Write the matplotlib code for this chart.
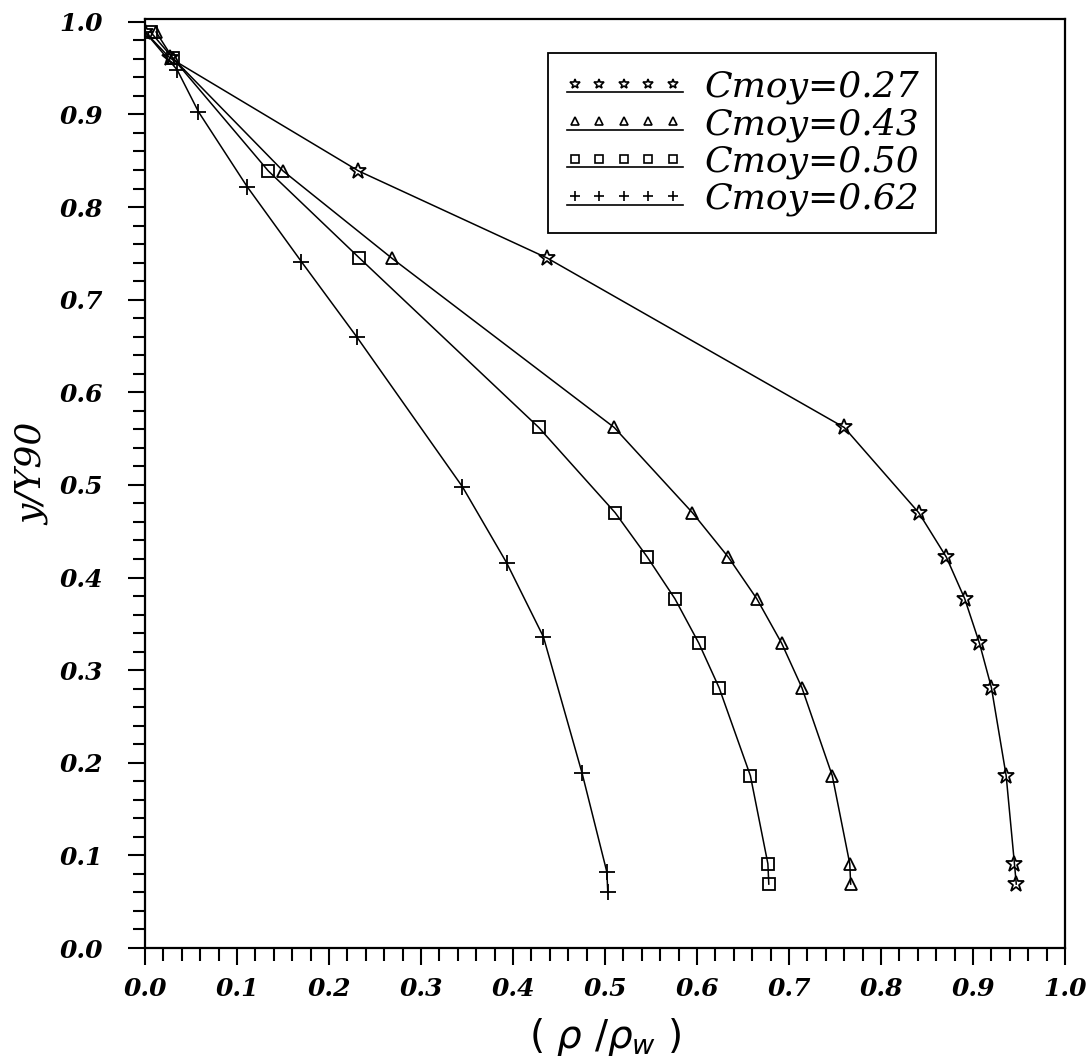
import numpy as np
import matplotlib
matplotlib.use('Agg')
import matplotlib.pyplot as plt
from matplotlib.lines import Line2D
from matplotlib.legend_handler import HandlerLine2D
from matplotlib.ticker import MultipleLocator, FormatStrFormatter

# data
y_common = [0.989, 0.961, 0.839, 0.745, 0.562, 0.470, 0.422, 0.377, 0.329, 0.281, 0.186, 0.091, 0.069]
x_027 = [0.000, 0.027, 0.232, 0.437, 0.760, 0.841, 0.871, 0.891, 0.907, 0.920, 0.936, 0.945, 0.947]
x_043 = [0.012, 0.030, 0.150, 0.268, 0.510, 0.595, 0.634, 0.665, 0.692, 0.714, 0.747, 0.766, 0.767]
x_050 = [0.006, 0.030, 0.134, 0.233, 0.428, 0.511, 0.546, 0.576, 0.602, 0.624, 0.658, 0.677, 0.678]
x_062 = [0.000, 0.035, 0.058, 0.111, 0.170, 0.230, 0.345, 0.393, 0.433, 0.475, 0.502, 0.503]
y_062 = [0.989, 0.948, 0.903, 0.822, 0.741, 0.660, 0.498, 0.416, 0.336, 0.189, 0.082, 0.060]

labels = ['Cmoy=0.27', 'Cmoy=0.43', 'Cmoy=0.50', 'Cmoy=0.62']
markers = ['*', '^', 's', '+']
msizes = [12, 9, 9, 11]

serif = 'DejaVu Serif'

fig = plt.figure(figsize=(10.88, 10.57), dpi=100)
ax = fig.add_axes([0.1333, 0.1031, 0.8456, 0.8789])

series = [(x_027, y_common), (x_043, y_common), (x_050, y_common), (x_062, y_062)]
for (xs, ys), m, ms in zip(series, markers, msizes):
    ax.plot(xs, ys, color='black', lw=1.1, marker=m, ms=ms, mfc='none',
            mec='black', mew=1.3)

ax.set_xlim(0, 1.0)
ax.set_ylim(0, 1.003)

ax.xaxis.set_major_locator(MultipleLocator(0.1))
ax.xaxis.set_minor_locator(MultipleLocator(0.02))
ax.yaxis.set_major_locator(MultipleLocator(0.1))
ax.yaxis.set_minor_locator(MultipleLocator(0.02))
ax.tick_params(which='both', direction='out', width=1.5, top=False, right=False)
ax.tick_params(which='major', length=12)
ax.tick_params(which='minor', length=9)
ax.tick_params(axis='x', which='major', pad=9)
ax.tick_params(axis='y', which='major', pad=18)
for sp in ax.spines.values():
    sp.set_linewidth(1.6)

ax.xaxis.set_major_formatter(FormatStrFormatter('%.1f'))
ax.yaxis.set_major_formatter(FormatStrFormatter('%.1f'))
for lab in ax.get_xticklabels() + ax.get_yticklabels():
    lab.set_fontfamily(serif)
    lab.set_fontstyle('italic')
    lab.set_fontweight('bold')
    lab.set_fontsize(18)

ax.set_ylabel('y/Y90', fontfamily=serif, fontstyle='italic', fontsize=26)
ax.yaxis.set_label_coords(-0.122, 0.51)
ax.yaxis.label.set_va('center')
ax.set_xlabel(r'$(\ \rho\ /\rho_w\ )$', fontsize=28)
ax.xaxis.set_label_coords(0.5, -0.096)
ax.xaxis.label.set_va('center')


class UnderlineHandler(HandlerLine2D):
    def create_artists(self, legend, orig_handle, xdescent, ydescent,
                       width, height, fontsize, trans):
        arts = super().create_artists(legend, orig_handle, xdescent, ydescent,
                                      width, height, fontsize, trans)
        yl = (height - ydescent) / 2 - 6
        under = Line2D([-xdescent + 2, -xdescent + width], [yl, yl],
                       color='black', lw=1.2, transform=trans)
        return list(arts) + [under]


handles = [Line2D([], [], ls='none', marker=m, ms=ms * 0.65, mfc='none',
                  mec='black', mew=1.2) for m, ms in zip(markers, msizes)]
leg = ax.legend(handles, labels, loc='upper left', bbox_to_anchor=(0.438, 0.963),
                numpoints=5, handlelength=3.3, handletextpad=0.6,
                borderpad=0.45, labelspacing=0.08, borderaxespad=0,
                fancybox=False, framealpha=1, edgecolor='black',
                prop={'family': serif, 'style': 'italic', 'size': 26},
                handler_map={Line2D: UnderlineHandler()})
leg.get_frame().set_linewidth(1.3)

fig.savefig('out.png', dpi=100)
